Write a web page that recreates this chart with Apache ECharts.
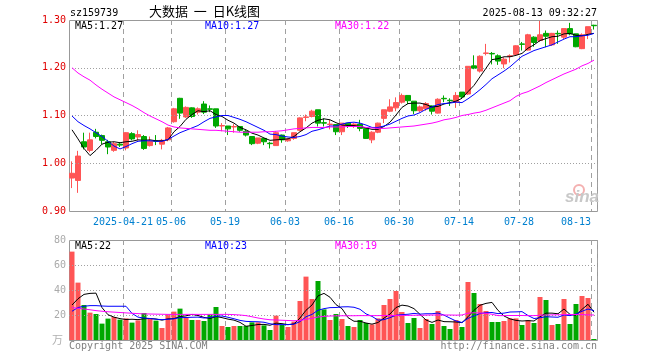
<!DOCTYPE html>
<html><head><meta charset="utf-8">
<script src="https://cdn.jsdelivr.net/npm/echarts@6/dist/echarts.min.js"></script>
<style>html,body{margin:0;padding:0;background:#fff}#c{width:660px;height:360px}</style>
</head><body><div id="c"></div>
<script>
const dates = ['2025-04-08','2025-04-09','2025-04-10','2025-04-11','2025-04-14','2025-04-15','2025-04-16','2025-04-17','2025-04-18','2025-04-21','2025-04-22','2025-04-23','2025-04-24','2025-04-25','2025-04-28','2025-04-29','2025-04-30',
'2025-05-06','2025-05-07','2025-05-08','2025-05-09','2025-05-12','2025-05-13','2025-05-14','2025-05-15','2025-05-16','2025-05-19','2025-05-20','2025-05-21','2025-05-22','2025-05-23','2025-05-26','2025-05-27','2025-05-28','2025-05-29','2025-05-30',
'2025-06-03','2025-06-04','2025-06-05','2025-06-06','2025-06-09','2025-06-10','2025-06-11','2025-06-12','2025-06-13','2025-06-16','2025-06-17','2025-06-18','2025-06-19','2025-06-20','2025-06-23','2025-06-24','2025-06-25','2025-06-26','2025-06-27','2025-06-30',
'2025-07-01','2025-07-02','2025-07-03','2025-07-04','2025-07-07','2025-07-08','2025-07-09','2025-07-10','2025-07-11','2025-07-14','2025-07-15','2025-07-16','2025-07-17','2025-07-18','2025-07-21','2025-07-22','2025-07-23','2025-07-24','2025-07-25','2025-07-28','2025-07-29','2025-07-30','2025-07-31',
'2025-08-01','2025-08-04','2025-08-05','2025-08-06','2025-08-07','2025-08-08','2025-08-11','2025-08-12','2025-08-13'];

const opens = [0.969,0.964,1.045,1.027,1.065,1.058,1.045,1.027,1.040,1.032,
1.062,1.055,1.056,1.037,1.047,1.040,1.049,1.087,1.136,1.097,
1.116,1.107,1.124,1.114,1.114,1.078,1.078,1.076,1.077,1.067,
1.056,1.042,1.052,1.042,1.037,1.059,1.047,1.052,1.069,1.096,
1.098,1.112,1.085,1.081,1.081,1.066,1.084,1.078,1.082,1.073,
1.049,1.065,1.094,1.109,1.116,1.128,1.142,1.130,1.110,1.114,
1.120,1.105,1.136,1.132,1.128,1.149,1.145,1.204,1.193,1.230,
1.230,1.225,1.208,1.224,1.228,1.250,1.237,1.264,1.257,1.272,
1.248,1.272,1.264,1.282,1.271,1.240,1.271,1.289];
const closes = [0.979,1.015,1.034,1.049,1.056,1.048,1.034,1.041,1.038,1.064,
1.051,1.060,1.031,1.046,1.046,1.048,1.074,1.114,1.105,1.117,
1.098,1.114,1.107,1.113,1.078,1.079,1.072,1.077,1.069,1.059,
1.041,1.053,1.045,1.041,1.064,1.049,1.051,1.064,1.095,1.097,
1.109,1.084,1.084,1.082,1.066,1.084,1.080,1.082,1.073,1.052,
1.065,1.084,1.112,1.118,1.127,1.142,1.131,1.110,1.118,1.125,
1.109,1.134,1.135,1.131,1.142,1.139,1.203,1.199,1.224,1.231,
1.229,1.214,1.218,1.225,1.246,1.249,1.269,1.253,1.269,1.266,
1.272,1.271,1.282,1.271,1.244,1.269,1.286,1.288];
const lows = [0.948,0.938,1.029,1.023,1.052,1.040,1.019,1.024,1.034,1.027,
1.048,1.048,1.028,1.035,1.038,1.029,1.046,1.085,1.093,1.095,
1.095,1.102,1.103,1.107,1.074,1.067,1.059,1.064,1.066,1.056,
1.038,1.040,1.038,1.031,1.037,1.043,1.045,1.049,1.067,1.088,
1.096,1.077,1.077,1.071,1.059,1.059,1.074,1.074,1.067,1.051,
1.042,1.063,1.084,1.107,1.109,1.125,1.124,1.103,1.107,1.110,
1.102,1.104,1.128,1.120,1.116,1.136,1.143,1.197,1.190,1.226,
1.207,1.206,1.199,1.211,1.225,1.236,1.236,1.244,1.254,1.243,
1.246,1.250,1.260,1.268,1.243,1.239,1.260,1.280];
const highs = [1.004,1.026,1.064,1.064,1.072,1.060,1.049,1.045,1.044,1.065,
1.065,1.069,1.059,1.056,1.059,1.051,1.076,1.116,1.137,1.119,
1.117,1.117,1.130,1.121,1.114,1.084,1.078,1.082,1.077,1.070,
1.056,1.053,1.053,1.045,1.067,1.060,1.053,1.064,1.096,1.102,
1.112,1.112,1.094,1.091,1.082,1.084,1.084,1.084,1.091,1.073,
1.067,1.085,1.112,1.134,1.138,1.146,1.142,1.130,1.121,1.128,
1.121,1.136,1.142,1.136,1.149,1.149,1.203,1.226,1.226,1.250,
1.233,1.228,1.222,1.228,1.247,1.254,1.271,1.266,1.298,1.278,
1.273,1.278,1.282,1.294,1.271,1.272,1.286,1.290];

const ma5 = [1.070,1.051,1.031,1.016,1.027,1.040,1.044,1.045,1.043,1.045,
1.046,1.049,1.048,1.049,1.047,1.047,1.049,1.066,1.077,1.092,
1.102,1.110,1.108,1.110,1.102,1.098,1.090,1.084,1.075,1.070,
1.063,1.059,1.053,1.048,1.049,1.050,1.051,1.056,1.066,1.074,
1.084,1.090,1.093,1.091,1.085,1.080,1.079,1.079,1.077,1.074,
1.071,1.071,1.077,1.086,1.101,1.117,1.125,1.126,1.126,1.123,
1.118,1.119,1.124,1.127,1.130,1.136,1.150,1.163,1.181,1.199,
1.217,1.219,1.223,1.223,1.226,1.230,1.241,1.248,1.257,1.261,
1.265,1.266,1.271,1.272,1.268,1.267,1.270,1.272];
const ma10 = [1.099,1.087,1.079,1.072,1.064,1.056,1.046,1.036,1.030,1.035,
1.041,1.046,1.047,1.047,1.046,1.046,1.050,1.057,1.064,1.069,
1.074,1.079,1.087,1.094,1.097,1.100,1.100,1.096,1.092,1.087,
1.081,1.075,1.069,1.061,1.060,1.057,1.055,1.054,1.056,1.060,
1.067,1.070,1.074,1.078,1.078,1.082,1.085,1.086,1.084,1.080,
1.075,1.075,1.078,1.082,1.088,1.094,1.099,1.101,1.106,1.113,
1.118,1.123,1.125,1.126,1.128,1.127,1.135,1.144,1.154,1.165,
1.177,1.185,1.193,1.202,1.213,1.224,1.230,1.236,1.240,1.244,
1.248,1.254,1.260,1.265,1.265,1.267,1.268,1.272];
const ma30 = [1.200,1.189,1.181,1.174,1.164,1.155,1.147,1.139,1.133,1.127,
1.121,1.114,1.106,1.099,1.093,1.087,1.080,1.076,1.074,1.073,
1.072,1.071,1.070,1.069,1.069,1.068,1.067,1.066,1.065,1.065,
1.065,1.065,1.066,1.066,1.067,1.068,1.070,1.072,1.073,1.074,
1.075,1.075,1.075,1.076,1.076,1.076,1.077,1.077,1.077,1.075,
1.074,1.073,1.073,1.074,1.075,1.076,1.077,1.078,1.080,1.082,
1.084,1.087,1.091,1.093,1.096,1.100,1.102,1.105,1.107,1.111,
1.116,1.121,1.126,1.131,1.140,1.146,1.150,1.156,1.162,1.169,
1.175,1.181,1.187,1.192,1.197,1.204,1.209,1.216];

const volumes = [70.7,45.9,28,21.9,20.8,13.1,17.1,18.4,16.3,17.3,
13.9,15.7,21.6,17.3,15.5,9.6,20.5,22.7,25.1,18.4,
16,16,15.2,20.5,26.4,11.2,10.4,11.2,11.2,11.2,
14.1,14.1,11.7,8,19.5,12,10.4,14.7,31.2,50.7,
32.8,47.2,24.5,16,20.8,16.8,11.2,10.4,16,13.6,
12.5,17.3,28,32.8,39.2,22.4,13.6,17.6,9.6,16.8,
12.8,23.2,11.2,8.8,16,10.4,46.4,37.6,28.8,23.2,
14.4,14.4,15.2,17.3,17.3,12,15.7,13.6,34.4,32,
12,12.8,32.8,12.8,28.8,35.2,33.6,0.8];
const volMa5 = [28.0,33.0,36.5,37.3,37.5,25.9,20.2,18.3,17.1,16.4,
16.6,16.3,17.0,17.2,16.8,15.9,16.9,17.1,18.7,19.3,
20.5,19.6,18.1,17.2,18.8,17.9,16.7,15.9,14.1,11.0,
11.6,12.4,12.5,11.8,13.5,13.1,12.3,12.9,17.6,23.8,
28.0,35.3,37.3,34.2,28.3,25.1,17.9,15.0,15.0,13.6,
12.7,14.0,17.5,20.8,26.0,27.9,27.2,25.1,20.5,16.0,
14.1,16.0,14.7,14.6,14.4,13.9,18.6,23.8,27.8,29.3,
30.1,23.7,19.2,16.9,15.7,15.2,15.5,15.2,18.6,21.5,
21.5,21.0,24.8,20.5,19.8,24.5,28.6,22.2];
const volMa10 = [23.0,26.0,27.0,27.5,27.5,27.2,27.0,27.0,27.0,27.0,
21.3,18.3,17.6,17.2,16.6,16.3,16.6,17.0,17.9,18.0,
18.2,18.3,17.6,18.0,19.0,19.2,18.2,17.0,15.7,14.9,
14.7,14.6,14.2,13.0,12.3,12.3,12.3,12.7,14.7,18.6,
20.5,23.8,25.1,25.9,26.0,26.5,26.6,26.2,24.6,20.9,
18.9,15.9,16.3,17.9,19.8,20.3,20.6,21.3,20.7,21.0,
21.0,21.6,19.9,17.5,15.2,14.0,17.3,19.3,21.2,21.8,
22.0,21.1,21.5,22.4,22.5,22.7,19.6,17.2,17.8,18.6,
18.4,18.2,20.0,19.5,20.7,23.0,24.8,23.5];
const volMa30 = [25.9,25.4,24.8,24.2,23.5,23.0,22.6,22.3,22.0,21.7,
21.4,21.1,20.9,20.8,20.7,20.6,20.5,20.5,20.5,20.5,
20.5,20.5,20.5,20.5,20.5,20.5,20.5,20.3,20.0,19.5,
18.6,17.6,16.8,16.2,16.0,15.8,15.6,15.4,15.6,16.5,
17.4,18.4,18.9,19.2,19.3,19.4,19.4,19.4,19.5,19.5,
19.5,19.5,19.6,19.6,19.6,19.7,19.7,19.8,19.8,19.9,
20.0,20.0,20.0,20.0,19.9,20.0,21.5,21.8,21.6,21.3,
20.6,19.5,19.5,19.6,19.6,19.6,19.5,19.5,19.8,20.0,
20.1,20.2,20.3,20.4,20.4,20.3,20.1,20.0];

const labelDates = ['2025-04-21','2025-05-06','2025-05-19','2025-06-03','2025-06-16','2025-06-30','2025-07-14','2025-07-28','2025-08-13'];
const labelTexts = ['2025-04-21','05-06','05-19','06-03','06-16','06-30','07-14','07-28','08-13'];
const priceGridValues = [1.0, 1.1, 1.2];
const volGridValues = [20, 40, 60];
const priceMA = {ma5:'1.27', ma10:'1.27', ma30:'1.22'};
const volMA = {ma5:'22', ma10:'23', ma30:'19'};

const UP = '#ff5555', DOWN = '#00a800';
const MONO = '"DejaVu Sans Mono", "Liberation Mono", monospace';
const GRID_C = '#a0a0a0';

const chart = echarts.init(document.getElementById('c'));
const isLabel = (idx) => labelDates.indexOf(dates[idx]) >= 0;

const G0 = {left:69, top:20, width:528, height:191};
const G1 = {left:69, top:240, width:528, height:100};

const lineS = (name, data, color, xi, yi) => ({
  name, type:'line', data, xAxisIndex:xi, yAxisIndex:yi, symbol:'none', smooth:false,
  lineStyle:{color, width:1}, itemStyle:{color}, silent:true, z:5
});

const hGrid = (vals) => ({silent:true, animation:false, symbol:['none','none'], label:{show:false},
  lineStyle:{color:GRID_C, type:[1,2], width:1}, emphasis:{disabled:true},
  data: vals.map(v => ({yAxis:v}))});

const frame = (g) => ({type:'rect', silent:true, z:0,
  shape:{x:g.left+0.5, y:g.top+0.5, width:g.width, height:g.height},
  style:{fill:null, stroke:'#999', lineWidth:1}});

chart.setOption({
  animation:false,
  grid:[G0, G1],
  xAxis:[
    {gridIndex:0, type:'category', data:dates, axisLine:{show:false}, axisTick:{show:false},
     splitLine:{show:true, interval:function(i){return isLabel(i);}, lineStyle:{color:GRID_C, type:[5,4]}},
     axisLabel:{show:true, interval:function(i){return isLabel(i);}, margin:6,
        formatter:function(v){const k=labelDates.indexOf(v); if(k<0) return ''; const t=labelTexts[k]; return (k===labelDates.length-1?'{r|':'{c|')+t+'}';},
        rich:{
          c:{fontFamily:MONO, fontSize:10, color:'#0080d0', padding:[0,6,0,0]},
          r:{fontFamily:MONO, fontSize:10, color:'#0080d0', padding:[0,36,0,0]}
        }}},
    {gridIndex:1, type:'category', data:dates, axisLine:{show:false}, axisTick:{show:false},
     axisLabel:{show:true, interval:function(i){return isLabel(i);}, formatter:function(){return '';}},
     splitLine:{show:true, interval:function(i){return isLabel(i);}, lineStyle:{color:GRID_C, type:[5,4]}}}
  ],
  yAxis:[
    {gridIndex:0, type:'value', min:0.9, max:1.3, interval:0.1,
     axisLine:{show:false}, axisTick:{show:false},
     axisLabel:{formatter:(v)=>v.toFixed(2), color:'#e00000', fontFamily:MONO, fontSize:10, margin:3},
     splitLine:{show:false}},
    {gridIndex:1, type:'value', min:0, max:80, interval:20,
     axisLine:{show:false}, axisTick:{show:false},
     axisLabel:{formatter:(v)=>v===0?'':String(v), color:'#aaaaaa', fontFamily:MONO, fontSize:10, margin:3},
     splitLine:{show:false}}
  ],
  series:[
    {type:'candlestick', xAxisIndex:0, yAxisIndex:0, barWidth:5, silent:true,
     data:dates.map((d,i)=>[opens[i],closes[i],lows[i],highs[i]]),
     itemStyle:{color:UP, color0:DOWN, borderColor:UP, borderColor0:DOWN, borderWidth:1},
     markLine: hGrid(priceGridValues)},
    lineS('MA5', ma5, '#000000', 0, 0),
    lineS('MA10', ma10, '#0000ff', 0, 0),
    lineS('MA30', ma30, '#ff00ff', 0, 0),
    {type:'bar', xAxisIndex:1, yAxisIndex:1, barWidth:5, silent:true,
     data:volumes.map((v,i)=>({value:v, itemStyle:{color: closes[i]>=opens[i]?UP:DOWN}})),
     markLine: hGrid(volGridValues)},
    lineS('VMA5', volMa5, '#000000', 1, 1),
    lineS('VMA10', volMa10, '#0000ff', 1, 1),
    lineS('VMA30', volMa30, '#ff00ff', 1, 1)
  ],
  graphic:[
    frame(G0), frame(G1),
    {type:'text', left:70, top:8, style:{text:'sz159739', font:'10px '+MONO, fill:'#000'}},
    {type:'text', left:149, top:5, style:{text:'大数据  一  日K线图', font:'13px "Noto Sans CJK SC"', fill:'#000'}},
    {type:'text', right:63, top:8, style:{text:'2025-08-13 09:32:27', font:'10px '+MONO, fill:'#000'}},
    {type:'text', left:75, top:21, style:{text:'MA5:'+priceMA.ma5, font:'10px '+MONO, fill:'#000'}, z:10},
    {type:'text', left:205, top:21, style:{text:'MA10:'+priceMA.ma10, font:'10px '+MONO, fill:'#0000ff'}, z:10},
    {type:'text', left:335, top:21, style:{text:'MA30:'+priceMA.ma30, font:'10px '+MONO, fill:'#ff00ff'}, z:10},
    {type:'text', left:75, top:241, style:{text:'MA5:'+volMA.ma5, font:'10px '+MONO, fill:'#000'}, z:10},
    {type:'text', left:205, top:241, style:{text:'MA10:'+volMA.ma10, font:'10px '+MONO, fill:'#0000ff'}, z:10},
    {type:'text', left:335, top:241, style:{text:'MA30:'+volMA.ma30, font:'10px '+MONO, fill:'#ff00ff'}, z:10},
    {type:'text', left:52, top:334, style:{text:'万', font:'11px "Noto Sans CJK SC"', fill:'#b0b0b0'}},
    {type:'text', left:69, top:341, style:{text:'Copyright 2025 SINA.COM', font:'10px '+MONO, fill:'#808080'}},
    {type:'text', right:63, top:341, style:{text:'http://finance.sina.com.cn', font:'10px '+MONO, fill:'#808080'}},
    {type:'circle', shape:{cx:579, cy:190, r:5}, style:{fill:'none', stroke:'#f4b0b0', lineWidth:2}, z:1},
    {type:'text', left:565, top:189, style:{text:'sina', font:'italic bold 17px "Liberation Sans"', fill:'#c8c8c8'}, z:1}
  ]
});
</script>
</body></html>
